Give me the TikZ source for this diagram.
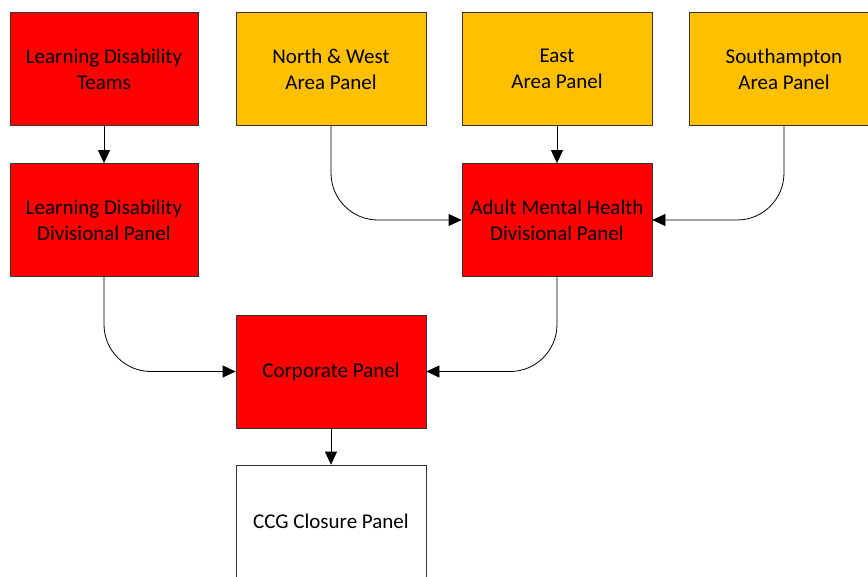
\documentclass[tikz,border=0pt]{standalone}
\usepackage{fontspec}
\setmainfont{Carlito}
\usetikzlibrary{arrows.meta}
\definecolor{amber}{RGB}{255,192,0}
\definecolor{bred}{RGB}{255,0,0}
\begin{document}
\begin{tikzpicture}[x=1pt,y=-1pt,
 box/.style={draw=black!80, line width=0.8pt, minimum width=190pt, minimum height=113pt, inner sep=0pt, align=center, font=\fontsize{21}{26}\selectfont},
 redbox/.style={box, fill=bred},
 ambox/.style={box, fill=amber},
 wbox/.style={box, fill=white},
 conn/.style={draw=black, line width=0.8pt, -{Triangle[length=13pt,width=12pt]}},
 curved/.style={conn, rounded corners=47pt},
]
\clip (0,0) rectangle (868,576);
\fill[white] (0,0) rectangle (868,576);
\node[redbox, minimum width=188pt] (ldt) at (104,69) {Learning Disability\\Teams};
\node[ambox] (nw) at (331,69) {North \& West\\Area Panel};
\node[ambox] (east) at (557,69) {East\\Area Panel};
\node[ambox] (soton) at (784,69) {Southampton\\Area Panel};
\node[redbox, minimum width=188pt] (ldd) at (104,220) {Learning Disability\\Divisional Panel};
\node[redbox] (amh) at (557,220) {Adult Mental Health\\Divisional Panel};
\node[redbox] (corp) at (331,371.5) {Corporate Panel};
\node[wbox] (ccg) at (331,521.5) {CCG Closure Panel};

\draw[conn] (ldt.south) -- (ldd.north);
\draw[conn] (east.south) -- (amh.north);
\draw[curved] (nw.south) |- (amh.west);
\draw[curved] (soton.south) |- (amh.east);
\draw[curved] (ldd.south) |- (corp.west);
\draw[curved] (amh.south) |- (corp.east);
\draw[conn] (corp.south) -- (ccg.north);
\end{tikzpicture}
\end{document}
